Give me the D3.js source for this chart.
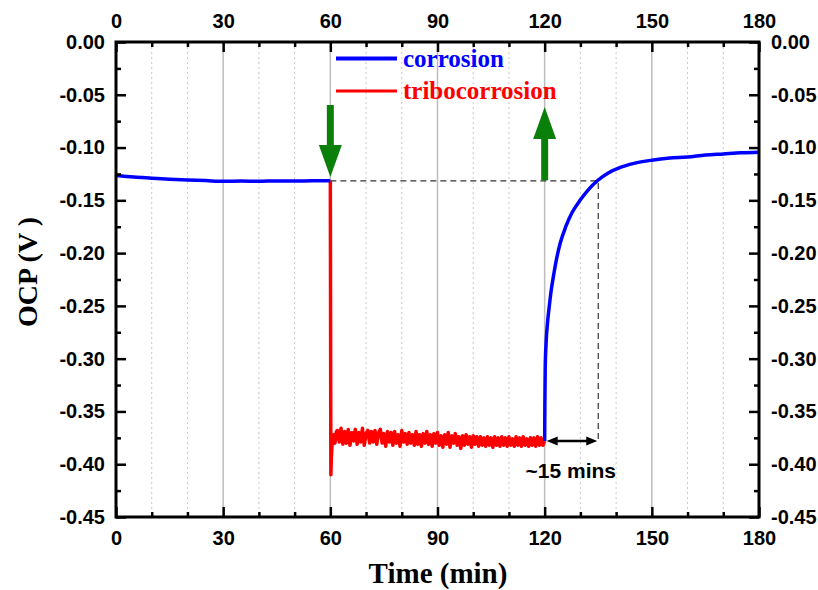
<!DOCTYPE html>
<html>
<head>
<meta charset="utf-8">
<script src="https://cdn.jsdelivr.net/npm/d3@7"></script>
<style>
  body { margin: 0; background: #fff; }
  .tick text { font-family: "Liberation Sans", Arial, sans-serif; font-weight: bold; font-size: 20px; fill: #000; }
  .tick line { stroke: #000; stroke-width: 2.5; }
</style>
</head>
<body>
<svg width="818" height="590"></svg>
<script>
const xTicks = [0, 30, 60, 90, 120, 150, 180];
const xMinor = [10, 20, 40, 50, 70, 80, 100, 110, 130, 140, 160, 170];
const yTicks = [0, -0.05, -0.10, -0.15, -0.20, -0.25, -0.30, -0.35, -0.40, -0.45];
const yMinor = [-0.025, -0.075, -0.125, -0.175, -0.225, -0.275, -0.325, -0.375, -0.425];

const seriesNames = ["corrosion", "tribocorrosion"];
const seriesColors = ["#0000ff", "#ff0000"];

// corrosion before rubbing
const blueBeforeT = [0, 5, 10, 15, 20, 25, 30, 35, 40, 45, 50, 55, 60];
const blueBeforeV = [-0.1265, -0.128, -0.129, -0.1300, -0.1307, -0.1313, -0.1320, -0.1318, -0.1320, -0.1316, -0.1318, -0.1315, -0.1315];

// recovery after rubbing stops
const blueAfterT = [120, 120.05, 120.15, 120.4, 120.8, 121.3, 121.8, 122.5, 123.3, 124.4, 125.9, 127.6, 129.9, 132.2, 134.9, 137.8, 141, 145, 150, 155, 160, 165, 170, 175, 180];
const blueAfterV = [-0.378, -0.345, -0.310, -0.285, -0.266, -0.250, -0.236, -0.221, -0.206, -0.190, -0.175, -0.162, -0.150, -0.140, -0.131, -0.124, -0.119, -0.115, -0.112, -0.110, -0.109, -0.107, -0.106, -0.105, -0.1045];

// tribocorrosion: drop at 60 min, then noisy plateau
const redStartT = [60, 60.15, 60.3, 60.5, 60.9, 61.3, 61.7];
const redStartV = [-0.1315, -0.410, -0.392, -0.381, -0.372, -0.380, -0.369];
const redBandStart = 62, redBandStep = 0.5;
const redBandV = [
  -0.368, -0.379, -0.366, -0.381, -0.369, -0.380, -0.367, -0.382, -0.370, -0.378,
  -0.367, -0.381, -0.370, -0.379, -0.366, -0.382, -0.371, -0.368, -0.380, -0.369,
  -0.379, -0.368, -0.381, -0.370, -0.367, -0.380, -0.371, -0.383, -0.369, -0.379,
  -0.370, -0.382, -0.369, -0.380, -0.372, -0.383, -0.368, -0.379, -0.371, -0.381,
  -0.370, -0.380, -0.372, -0.382, -0.369, -0.381, -0.372, -0.383, -0.371, -0.380,
  -0.369, -0.381, -0.372, -0.383, -0.371, -0.380, -0.370, -0.382, -0.373, -0.384,
  -0.372, -0.381, -0.370, -0.384, -0.373, -0.380, -0.371, -0.382, -0.374, -0.385,
  -0.373, -0.382, -0.372, -0.381, -0.374, -0.384, -0.373, -0.381, -0.374, -0.383,
  -0.374, -0.382, -0.375, -0.383, -0.374, -0.382, -0.375, -0.384, -0.374, -0.382,
  -0.375, -0.383, -0.374, -0.382, -0.375, -0.383, -0.374, -0.382, -0.376, -0.383,
  -0.374, -0.382, -0.375, -0.383, -0.374, -0.382, -0.376, -0.383, -0.375, -0.382,
  -0.375, -0.383, -0.374, -0.382, -0.375, -0.382, -0.378
];

const recoveryLevel = -0.1315, recoveryTime = 135, plateauLevel = -0.378;
const annotationText = "~15 mins";
// arrows: [time, tail, head]
const downArrow = [60, -0.0597, -0.128];
const upArrow = [120, -0.131, -0.0616];

const svg = d3.select("svg");
const x = d3.scaleLinear().domain([0, 180]).range([116, 759]);
const y = d3.scaleLinear().domain([0, -0.45]).range([42, 517]);

const redT = redStartT.concat(redBandV.map((v, i) => redBandStart + i * redBandStep));
const redV = redStartV.concat(redBandV);

// grid
svg.append("g").selectAll("line").data(xTicks.slice(1, -1)).enter().append("line")
  .attr("x1", d => x(d)).attr("x2", d => x(d)).attr("y1", y(0)).attr("y2", y(-0.45))
  .attr("stroke", "#bdbdbd").attr("stroke-width", 1.5);
svg.append("g").selectAll("line").data(xMinor).enter().append("line")
  .attr("x1", d => x(d)).attr("x2", d => x(d)).attr("y1", y(0)).attr("y2", y(-0.45))
  .attr("stroke", "#c8c8c8").attr("stroke-width", 1).attr("stroke-dasharray", "2,3");

// dashed guides
svg.append("path")
  .attr("d", `M${x(60)},${y(recoveryLevel)}H${x(recoveryTime)}V${y(plateauLevel)}`)
  .attr("fill", "none").attr("stroke", "#333").attr("stroke-width", 1.2).attr("stroke-dasharray", "6,4");

const line = d3.line().x(d => x(d[0])).y(d => y(d[1]));

svg.append("path").datum(redT.map((t, i) => [t, redV[i]]))
  .attr("d", line).attr("fill", "none").attr("stroke", seriesColors[1]).attr("stroke-width", 3.5)
  .attr("stroke-linejoin", "round");
svg.append("path").datum(blueBeforeT.map((t, i) => [t, blueBeforeV[i]]))
  .attr("d", line.curve(d3.curveMonotoneX)).attr("fill", "none").attr("stroke", seriesColors[0]).attr("stroke-width", 3.5);
svg.append("path").datum(blueAfterT.map((t, i) => [t, blueAfterV[i]]))
  .attr("d", line.curve(d3.curveMonotoneX)).attr("fill", "none").attr("stroke", seriesColors[0]).attr("stroke-width", 3.5);

// double arrow ~15 mins
const ax1 = x(120) + 2, ax2 = x(recoveryTime) - 1, ay = y(plateauLevel);
svg.append("line").attr("x1", ax1 + 6).attr("x2", ax2 - 6).attr("y1", ay).attr("y2", ay)
  .attr("stroke", "#000").attr("stroke-width", 2.5);
svg.append("path").attr("d", `M${ax1},${ay}l11,-4.5v9z M${ax2},${ay}l-11,-4.5v9z`).attr("fill", "#000");
svg.append("text").attr("x", x(127.3)).attr("y", 478).attr("text-anchor", "middle")
  .attr("font-family", "Liberation Sans, Arial, sans-serif").attr("font-weight", "bold").attr("font-size", 21)
  .text(annotationText);

// green arrows
function arrow(a) {
  const cx = x(a[0]), tail = y(a[1]), tip = y(a[2]);
  const dir = tip > tail ? 1 : -1;
  const base = tip - dir * 32;
  svg.append("line").attr("x1", cx).attr("x2", cx).attr("y1", tail).attr("y2", base + dir)
    .attr("stroke", "#0a800a").attr("stroke-width", 7);
  svg.append("path").attr("d", `M${cx - 11.5},${base}L${cx + 11.5},${base}L${cx},${tip}Z`).attr("fill", "#0a800a");
}
arrow(downArrow);
arrow(upArrow);

// axes
const fmtY = d => d3.format(".2f")(d).replace("\u2212", "-");
function addAxis(axisFn, scale, major, minor, size, pad, transform) {
  svg.append("g").attr("transform", transform)
    .call(axisFn(scale).tickValues(minor).tickSize(-5).tickSizeOuter(0).tickFormat(""))
    .call(g => g.select(".domain").remove());
  svg.append("g").attr("transform", transform)
    .call(axisFn(scale).tickValues(major).tickSize(-size).tickSizeOuter(0).tickPadding(pad)
      .tickFormat(major === xTicks ? d3.format("d") : fmtY))
    .call(g => g.select(".domain").remove());
}
addAxis(d3.axisBottom, x, xTicks, xMinor, 10, 14, `translate(0,${y(-0.45)})`);
addAxis(d3.axisTop, x, xTicks, xMinor, 10, 14, `translate(0,${y(0)})`);
addAxis(d3.axisLeft, y, yTicks, yMinor, 10, 11, `translate(${x(0)},0)`);
addAxis(d3.axisRight, y, yTicks, yMinor, 10, 12, `translate(${x(180)},0)`);

svg.append("rect").attr("x", x(0)).attr("y", y(0)).attr("width", x(180) - x(0)).attr("height", y(-0.45) - y(0))
  .attr("fill", "none").attr("stroke", "#000").attr("stroke-width", 3);

// legend
const legend = svg.append("g").selectAll("g").data(seriesNames).enter().append("g")
  .attr("transform", (d, i) => `translate(336,${58.5 + i * 32.5})`);
legend.append("line").attr("x1", 0).attr("x2", 61)
  .attr("stroke", (d, i) => seriesColors[i]).attr("stroke-width", (d, i) => i ? 3 : 4);
legend.append("text").attr("x", 67).attr("y", 8)
  .attr("font-family", "Liberation Serif, Times New Roman, serif").attr("font-weight", "bold").attr("font-size", 25)
  .attr("fill", (d, i) => seriesColors[i]).text(d => d);

// axis titles
svg.append("text").attr("x", 438).attr("y", 583).attr("text-anchor", "middle")
  .attr("font-family", "Liberation Serif, Times New Roman, serif").attr("font-weight", "bold").attr("font-size", 29)
  .text("Time (min)");
svg.append("text").attr("transform", "translate(37,272) rotate(-90)").attr("text-anchor", "middle")
  .attr("font-family", "Liberation Serif, Times New Roman, serif").attr("font-weight", "bold").attr("font-size", 28)
  .text("OCP (V )");
</script>
</body>
</html>
